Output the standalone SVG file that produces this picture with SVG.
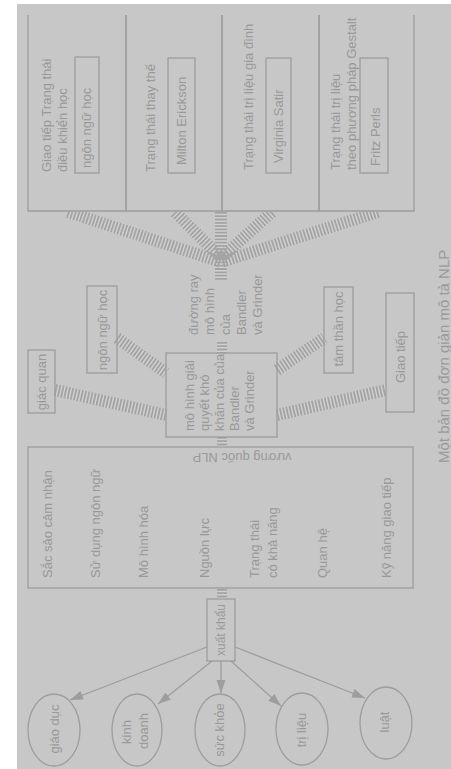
<svg xmlns="http://www.w3.org/2000/svg" width="451" height="769" viewBox="0 0 451 769">
<defs>
<style>
.ln{fill:none;stroke:#9d9d9d;stroke-width:1.3}
.t{font-family:"Liberation Sans",Arial,sans-serif;font-size:13px;fill:#999999}
.ts{font-family:"Liberation Sans",Arial,sans-serif;font-size:12px;fill:#999999}
.cap{font-family:"Liberation Sans",Arial,sans-serif;font-size:15px;fill:#9a9a9a}
.band{fill:none;stroke:#d0d0d0;stroke-width:12}
.ties{fill:none;stroke:#a3a3a3;stroke-width:12;stroke-dasharray:1.8 1.5}
.sband{fill:none;stroke:#d0d0d0;stroke-width:10}
.sties{fill:none;stroke:#a3a3a3;stroke-width:10;stroke-dasharray:1.8 1.5}
.arr{fill:none;stroke:#9d9d9d;stroke-width:1.3;marker-end:url(#ah)}
</style>
<marker id="ah" markerUnits="userSpaceOnUse" markerWidth="14" markerHeight="10" refX="13" refY="4.5" orient="auto">
<path d="M0,0 L13,4.5 L0,9 z" fill="#9d9d9d"/>
</marker>
<clipPath id="hubclip"><rect x="0" y="211.7" width="451" height="80"/></clipPath>
</defs>
<rect x="0" y="0" width="451" height="769" fill="#ffffff"/>
<rect x="17" y="4" width="434" height="765" fill="#c7c7c7"/>

<g id="connectors">
<g clip-path="url(#hubclip)">
<path class="band" d="M68,212 L221,262 M175,212 L221,258 M272,212 L221,258 M378,212 L221,262 M221,212 L221,280"/>
<path class="ties" d="M68,212 L221,262 M175,212 L221,258 M272,212 L221,258 M378,212 L221,262 M221,212 L221,280"/>
</g>
<path class="band" d="M55,390 L166,415 M117,338 L166,373 M277,370 L324,338 M277,415 L386,390"/>
<path class="ties" d="M55,390 L166,415 M117,338 L166,373 M277,370 L324,338 M277,415 L386,390"/>
<path class="sband" d="M222,342 V353 M222,437 V447 M222,589 V599"/>
<path class="sties" d="M222,342 V353 M222,437 V447 M222,589 V599"/>
<path class="arr" d="M207,647 L70,700"/>
<path class="arr" d="M212,661 L158,704"/>
<path class="arr" d="M221,661 L221,693"/>
<path class="arr" d="M231,661 L281,706"/>
<path class="arr" d="M235,647 L365,698"/>
</g>

<g id="col-giao-tiep">
<path class="ln" d="M28,15 V211 H126 V15"/>
<text class="t" transform="translate(51,172) rotate(-90)">Giao tiếp Trạng thái</text>
<text class="t" transform="translate(67,172) rotate(-90)">điều khiển học</text>
<rect class="ln" x="75" y="57" width="24" height="116"/>
<text class="t" transform="translate(91,168) rotate(-90)">ngôn ngữ học</text>
</g>
<g id="col-thay-the">
<path class="ln" d="M126,15 V211 H222 V15"/>
<text class="t" transform="translate(155,172) rotate(-90)">Trạng thái thay thế</text>
<rect class="ln" x="168" y="58" width="27" height="115"/>
<text class="t" transform="translate(186,165) rotate(-90)">Milton Erickson</text>
</g>
<g id="col-gia-dinh">
<path class="ln" d="M222,15 V211 H319 V15"/>
<text class="t" transform="translate(253,170) rotate(-90)">Trạng thái trị liệu gia đình</text>
<rect class="ln" x="266" y="58" width="25" height="115"/>
<text class="t" transform="translate(283,163) rotate(-90)">Virginia Satir</text>
</g>
<g id="col-gestalt">
<path class="ln" d="M319,15 V211 H414 V15"/>
<text class="t" transform="translate(340,170) rotate(-90)">Trạng thái trị liệu</text>
<text class="t" transform="translate(356,170) rotate(-90)">theo phương pháp Gestalt</text>
<rect class="ln" x="360" y="58" width="28" height="115"/>
<text class="t" transform="translate(380,166) rotate(-90)">Fritz Perls</text>
</g>

<g id="rail-label">
<text class="t" transform="translate(198,335) rotate(-90)">đường ray</text>
<text class="t" transform="translate(214,335) rotate(-90)">mô hình</text>
<text class="t" transform="translate(230,335) rotate(-90)">của</text>
<text class="t" transform="translate(246,335) rotate(-90)">Bandler</text>
<text class="t" transform="translate(262,335) rotate(-90)">và Grinder</text>
</g>

<g id="giac-quan">
<rect class="ln" x="28" y="350" width="27" height="63"/>
<text class="t" text-anchor="middle" transform="translate(46,382) rotate(-90)">giác quan</text>
</g>
<g id="ngon-ngu-hoc">
<rect class="ln" x="87" y="286" width="30" height="87"/>
<text class="t" text-anchor="middle" transform="translate(107,330) rotate(-90)">ngôn ngữ học</text>
</g>
<g id="mo-hinh">
<rect class="ln" x="166" y="353" width="111" height="84"/>
<text class="t" transform="translate(194,431) rotate(-90)">mô hình giải</text>
<text class="t" transform="translate(209,431) rotate(-90)">quyết khó</text>
<text class="t" transform="translate(224,431) rotate(-90)">khăn của của</text>
<text class="t" transform="translate(239,431) rotate(-90)">Bandler</text>
<text class="t" transform="translate(254,431) rotate(-90)">và Grinder</text>
</g>
<g id="tam-than-hoc">
<rect class="ln" x="324" y="287" width="29" height="86"/>
<text class="t" text-anchor="middle" transform="translate(343,329) rotate(-90)">tâm thần học</text>
</g>
<g id="giao-tiep">
<rect class="ln" x="386" y="293" width="28" height="119"/>
<text class="t" text-anchor="middle" transform="translate(405,357) rotate(-90)">Giao tiếp</text>
</g>

<g id="vuong-quoc-nlp">
<rect class="ln" x="28" y="447" width="385" height="141"/>
<text class="t" text-anchor="middle" transform="translate(242,453) rotate(180)">vương quốc NLP</text>
<text class="t" transform="translate(52,578) rotate(-90)">Sắc sảo cảm nhận</text>
<text class="t" transform="translate(100,578) rotate(-90)">Sử dụng ngôn ngữ</text>
<text class="t" transform="translate(148,578) rotate(-90)">Mô hình hóa</text>
<text class="t" transform="translate(209,578) rotate(-90)">Nguồn lực</text>
<text class="t" transform="translate(259,578) rotate(-90)">Trạng thái</text>
<text class="t" transform="translate(277,578) rotate(-90)">có khả năng</text>
<text class="t" transform="translate(327,578) rotate(-90)">Quan hệ</text>
<text class="t" transform="translate(391,578) rotate(-90)">Kỹ năng giao tiếp</text>
</g>

<g id="xuat-khau">
<rect class="ln" x="207" y="599" width="28" height="62"/>
<text class="ts" text-anchor="middle" transform="translate(225,630) rotate(-90)">xuất khẩu</text>
</g>

<g id="giao-duc">
<ellipse class="ln" cx="54" cy="730" rx="26" ry="36"/>
<text class="t" text-anchor="middle" transform="translate(59,729) rotate(-90)">giáo dục</text>
</g>
<g id="kinh-doanh">
<ellipse class="ln" cx="137" cy="730" rx="25" ry="36"/>
<text class="t" text-anchor="middle" transform="translate(131,732) rotate(-90)">kinh</text>
<text class="t" text-anchor="middle" transform="translate(148,731) rotate(-90)">doanh</text>
</g>
<g id="suc-khoe">
<ellipse class="ln" cx="220" cy="730" rx="25" ry="36"/>
<text class="t" text-anchor="middle" transform="translate(224,730) rotate(-90)">sức khỏe</text>
</g>
<g id="tri-lieu">
<ellipse class="ln" cx="302" cy="729" rx="26" ry="36"/>
<text class="t" text-anchor="middle" transform="translate(306,730) rotate(-90)">trị liệu</text>
</g>
<g id="luat">
<ellipse class="ln" cx="386" cy="723" rx="26" ry="36"/>
<text class="t" text-anchor="middle" transform="translate(389,722) rotate(-90)">luật</text>
</g>

<text class="cap" transform="translate(449,463) rotate(-90)">Một bản đồ đơn giản mô tả NLP</text>
</svg>
